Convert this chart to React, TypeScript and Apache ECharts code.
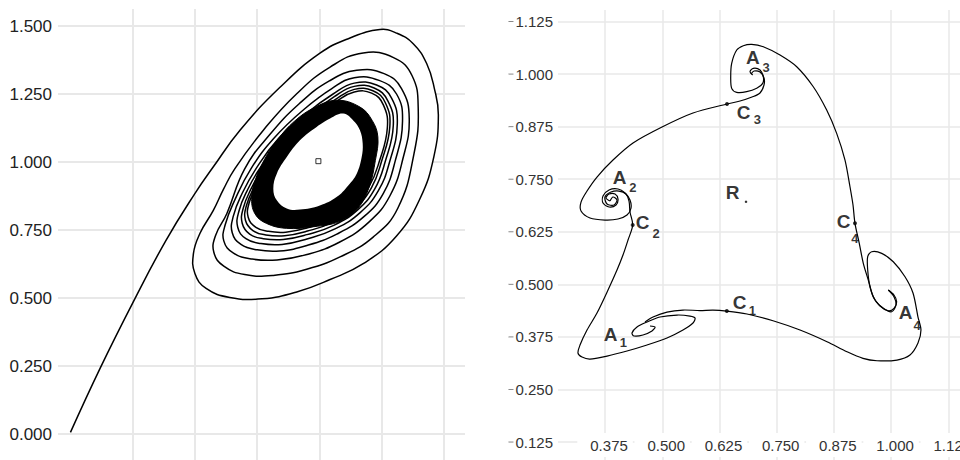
import React, { useEffect, useRef } from "react";
import * as echarts from "echarts";

type P = [number, number];

// ---------------- LEFT PANEL (trajectory spiralling onto a cycle) ----------------
const leftIncoming: P[] = [
  [0.0, 0.006], [0.119, 0.2415], [0.2514, 0.4842], [0.3839, 0.7121], [0.5004, 0.8849],
  [0.5727, 0.9805], [0.6811, 1.1165], [0.8418, 1.2746], [1.0024, 1.4], [1.123, 1.456],
  [1.243, 1.487],
];
const leftLoop1: P[] = [
  [1.31, 1.474], [1.377, 1.435], [1.431, 1.362], [1.462, 1.27], [1.478, 1.172],
  [1.46, 1.02], [1.404, 0.865], [1.31, 0.728], [1.176, 0.626], [1.043, 0.568],
  [0.909, 0.522], [0.77, 0.497], [0.64, 0.502], [0.545, 0.535], [0.5, 0.59],
  [0.494, 0.663], [0.52, 0.737], [0.574, 0.822],
];
const leftLoop2: P[] = [
  [0.615, 0.9], [0.66, 0.975], [0.775, 1.117], [0.909, 1.251], [1.043, 1.349],
  [1.176, 1.401], [1.3, 1.383], [1.372, 1.318], [1.397, 1.2], [1.38, 1.03],
  [1.315, 0.83], [1.216, 0.724], [1.083, 0.651], [0.949, 0.606], [0.815, 0.583],
  [0.7, 0.586], [0.616, 0.617], [0.576, 0.668], [0.583, 0.73], [0.628, 0.81],
];
const leftLoop3: P[] = [
  [0.7, 0.975], [0.8, 1.1], [0.92, 1.215], [1.04, 1.298], [1.15, 1.337],
  [1.26, 1.325], [1.33, 1.27], [1.361, 1.16], [1.335, 1.01], [1.283, 0.875],
  [1.2, 0.78], [1.08, 0.705], [0.95, 0.66], [0.83, 0.64], [0.73, 0.643],
  [0.655, 0.665], [0.616, 0.71], [0.622, 0.77], [0.66, 0.86],
];
const leftLoop4: P[] = [
  [0.725, 0.975], [0.82, 1.09], [0.94, 1.195], [1.05, 1.27], [1.14, 1.31],
  [1.24, 1.3], [1.31, 1.25], [1.334, 1.15], [1.305, 1.005], [1.257, 0.885],
  [1.18, 0.8], [1.07, 0.735], [0.95, 0.693], [0.84, 0.673], [0.75, 0.677],
  [0.685, 0.697], [0.65, 0.74], [0.654, 0.8], [0.69, 0.885],
];
const leftLoop5: P[] = [
  [0.745, 0.975], [0.835, 1.085], [0.95, 1.18], [1.055, 1.25], [1.14, 1.29],
  [1.23, 1.283], [1.29, 1.235], [1.313, 1.14], [1.282, 1.0], [1.237, 0.895],
  [1.165, 0.815], [1.065, 0.755], [0.95, 0.717], [0.85, 0.697], [0.765, 0.7],
  [0.705, 0.718], [0.672, 0.76], [0.677, 0.82], [0.71, 0.895],
];
const leftLoop6: P[] = [
  [0.76, 0.975], [0.85, 1.08], [0.96, 1.17], [1.06, 1.24], [1.14, 1.278],
  [1.22, 1.272], [1.275, 1.225], [1.297, 1.135], [1.264, 1.0], [1.222, 0.9],
  [1.155, 0.825], [1.06, 0.768], [0.95, 0.733], [0.855, 0.715], [0.775, 0.718],
  [0.72, 0.735], [0.69, 0.775], [0.694, 0.83], [0.725, 0.9],
];
const leftLoop7: P[] = [
  [0.772, 0.975], [0.86, 1.075], [0.965, 1.162], [1.065, 1.23], [1.14, 1.267],
  [1.215, 1.262], [1.265, 1.218], [1.283, 1.13], [1.249, 1.0], [1.209, 0.905],
  [1.145, 0.833], [1.055, 0.779], [0.952, 0.746], [0.86, 0.729], [0.785, 0.732],
  [0.733, 0.748], [0.703, 0.786], [0.707, 0.84], [0.737, 0.905],
];
const leftLoop8: P[] = [
  [0.782, 0.975], [0.868, 1.07], [0.97, 1.155], [1.068, 1.222], [1.14, 1.257],
  [1.21, 1.253], [1.257, 1.21], [1.273, 1.125], [1.24, 1.0], [1.2, 0.91],
  [1.138, 0.84], [1.05, 0.789], [0.953, 0.758], [0.865, 0.742], [0.795, 0.745],
  [0.745, 0.76], [0.714, 0.797], [0.718, 0.85], [0.748, 0.91], [0.79, 0.99],
];
const leftBandOuter: P[] = [
  [1.069, 1.227], [1.163, 1.202], [1.212, 1.153], [1.235, 1.092], [1.225, 1.006],
  [1.2, 0.908], [1.155, 0.83], [1.083, 0.782], [0.976, 0.762], [0.869, 0.756],
  [0.788, 0.774], [0.741, 0.81], [0.728, 0.871], [0.745, 0.94], [0.78, 1.01],
  [0.83, 1.08], [0.9, 1.15], [0.976, 1.198],
];
const leftBandHole: P[] = [
  [1.096, 1.178], [1.136, 1.153], [1.163, 1.117], [1.174, 1.068], [1.17, 1.018],
  [1.15, 0.957], [1.116, 0.914], [1.069, 0.871], [1.002, 0.84], [0.922, 0.825],
  [0.869, 0.829], [0.829, 0.859], [0.815, 0.902], [0.829, 0.957], [0.869, 1.018],
  [0.922, 1.08], [0.989, 1.129], [1.043, 1.16],
];
const leftEquilibrium: P[] = [[0.996, 1.003]];
const leftXGrid = [0.25, 0.5, 0.75, 1.0, 1.25, 1.5];

// ---------------- RIGHT PANEL (four saddles C, four attractors A) ----------------
const rightBranchC1: P[] = [
  [0.4623, 0.4104], [0.4798, 0.4223], [0.5104, 0.4341], [0.5453, 0.4389], [0.5825, 0.4377],
  [0.6109, 0.4389], [0.6408, 0.4365], [0.6852, 0.4294], [0.742, 0.4135], [0.801, 0.3913],
  [0.86, 0.3635], [0.9036, 0.3397], [0.9386, 0.324], [0.9692, 0.3183], [1.0129, 0.32],
  [1.0413, 0.3319], [1.0588, 0.3604], [1.0653, 0.3913], [1.0588, 0.4223], [1.0479, 0.4793],
  [1.0304, 0.5181], [1.0048, 0.5538], [0.9795, 0.5737], [0.9576, 0.5775], [0.9489, 0.5657],
  [0.9489, 0.534], [0.9539, 0.4943], [0.9648, 0.4627], [0.983, 0.443], [1.0013, 0.4349],
  [1.0107, 0.4508], [1.0063, 0.4705], [0.9939, 0.4865],
];
const rightBranchC2: P[] = [
  [0.3858, 0.6981], [0.3924, 0.7077], [0.4011, 0.7005], [0.3946, 0.6886], [0.3793, 0.691],
  [0.3749, 0.7077], [0.388, 0.7195], [0.4055, 0.7219], [0.4208, 0.7148], [0.4274, 0.6981],
  [0.4295, 0.672], [0.4354, 0.6411], [0.4252, 0.6054], [0.4142, 0.5697], [0.4011, 0.534],
  [0.3815, 0.4865], [0.3574, 0.4318], [0.3356, 0.3913], [0.3203, 0.3557], [0.3159, 0.3366],
  [0.3247, 0.3271], [0.3421, 0.3224], [0.3793, 0.3295], [0.423, 0.3414], [0.4667, 0.3557],
  [0.5104, 0.3723], [0.5453, 0.3913], [0.5672, 0.408], [0.5716, 0.4199], [0.5606, 0.4246],
  [0.5322, 0.427], [0.4951, 0.4223], [0.4667, 0.4104], [0.4448, 0.3985], [0.4339, 0.3842],
  [0.4383, 0.3771], [0.4579, 0.3795], [0.4776, 0.389], [0.4842, 0.3985], [0.4732, 0.4009],
];
const rightBranchC3: P[] = [
  [0.3858, 0.6981], [0.3771, 0.7053], [0.3837, 0.7148], [0.3968, 0.7148], [0.4033, 0.7029],
  [0.3989, 0.6886], [0.3837, 0.6839], [0.3705, 0.6934], [0.3705, 0.71], [0.3837, 0.7243],
  [0.4033, 0.7267], [0.4186, 0.7171], [0.4295, 0.7005], [0.4317, 0.6815], [0.423, 0.6648],
  [0.4033, 0.6553], [0.3749, 0.6529], [0.3421, 0.6577], [0.3225, 0.6743], [0.3225, 0.6957],
  [0.3356, 0.7219], [0.3574, 0.7552], [0.3924, 0.7956], [0.4361, 0.8361], [0.4995, 0.8741],
  [0.5672, 0.9074], [0.6415, 0.9288], [0.6699, 0.936], [0.6961, 0.9455], [0.7136, 0.955],
  [0.7223, 0.974], [0.7223, 0.9906], [0.7136, 1.0049], [0.7005, 1.0073], [0.6939, 1.0001],
];
const rightBranchC4: P[] = [
  [0.6976, 0.9978], [0.6917, 1.0056], [0.6989, 1.0137], [0.7136, 1.0097], [0.7208, 0.9937],
  [0.7195, 0.978], [0.7064, 0.9661], [0.6845, 0.9581], [0.6627, 0.9567], [0.6517, 0.9661],
  [0.6496, 0.9937], [0.6517, 1.0256], [0.6627, 1.0572], [0.6771, 1.0675], [0.6954, 1.0708],
  [0.7208, 1.0651], [0.7573, 1.0453], [0.7938, 1.0175], [0.83, 0.9699], [0.8593, 0.9145],
  [0.8811, 0.8591], [0.8993, 0.7956], [0.9102, 0.7321], [0.9168, 0.6886], [0.9211, 0.6451],
  [0.9305, 0.5975], [0.9393, 0.55], [0.9502, 0.5102], [0.9611, 0.4705], [0.9758, 0.4484],
  [0.9939, 0.4372], [1.0063, 0.443], [1.0122, 0.4586], [1.0063, 0.4746], [0.9939, 0.4865],
];
const rightSaddlePoints: P[] = [
  [0.641, 0.4365], [0.4354, 0.6411], [0.6415, 0.9288], [0.9211, 0.6451],
];
const rightPointR: P[] = [[0.683, 0.6965]];
const rightLetterText = ["A", "C", "A", "R", "C", "C", "C", "A", "A"];
const rightLetterPos: P[] = [
  [0.698, 1.039], [0.6775, 0.9086], [0.4066, 0.754], [0.6535, 0.7183], [0.4569, 0.647],
  [0.896, 0.649], [0.669, 0.4567], [0.387, 0.3806], [1.0315, 0.433],
];
const rightSubText = ["3", "3", "2", "2", "4", "1", "1", "4"];
const rightSubPos: P[] = [
  [0.727, 1.0155], [0.708, 0.893], [0.436, 0.7314], [0.4864, 0.622], [0.921, 0.61],
  [0.697, 0.4389], [0.415, 0.362], [1.0566, 0.403],
];

const SANS = "'Liberation Sans', Arial, Helvetica, sans-serif";
const GRID = "#e8e8e8";

const polygon = (pts: P[], fill: string, xi: number, yi: number, z: number, smooth: number, stroke?: string) => ({
  type: "custom",
  coordinateSystem: "cartesian2d",
  xAxisIndex: xi,
  yAxisIndex: yi,
  z,
  silent: true,
  clip: false,
  data: [pts[0]],
  renderItem: (_p: any, api: any) => ({
    type: "polygon",
    shape: { points: pts.map((p) => api.coord(p)), smooth },
    style: { fill, stroke: stroke || "none", lineWidth: stroke ? 1 : 0 },
  }),
});

const curve = (pts: P[], xi: number, yi: number, width: number, smooth: number) => ({
  type: "custom",
  coordinateSystem: "cartesian2d",
  xAxisIndex: xi,
  yAxisIndex: yi,
  z: 3,
  silent: true,
  clip: false,
  data: [pts[0]],
  renderItem: (_p: any, api: any) => ({
    type: "polyline",
    shape: { points: pts.map((p) => api.coord(p)), smooth },
    style: { fill: "none", stroke: "#000", lineWidth: width },
  }),
});

export default function App() {
  const ref = useRef<HTMLDivElement>(null);
  useEffect(() => {
    if (!ref.current) return;
    const chart = echarts.init(ref.current, undefined, { renderer: "svg" });
    const trajectory = [
      ...leftIncoming, ...leftLoop1, ...leftLoop2, ...leftLoop3, ...leftLoop4,
      ...leftLoop5, ...leftLoop6, ...leftLoop7, ...leftLoop8,
    ];
    const whiteRegion = [...leftIncoming.slice(4), ...leftLoop1];
    const fmt = (v: number) => v.toFixed(3);
    const option: any = {
      animation: false,
      backgroundColor: "#fff",
      grid: [
        { left: 58, top: 9, width: 407, height: 493, outerBoundsMode: "none", containLabel: false },
        { left: 558, top: 10, width: 447.5, height: 484.6, outerBoundsMode: "none", containLabel: false },
      ],
      xAxis: [
        {
          gridIndex: 0, type: "value", min: -0.05, max: 1.585,
          axisLine: { show: false }, axisTick: { show: false }, axisLabel: { show: false },
          splitLine: { show: false },
        },
        {
          gridIndex: 1, type: "value", min: 0.2722, max: 1.25,
          minInterval: 0.125, maxInterval: 0.125, offset: -52.6,
          axisLine: { show: false, onZero: false }, axisTick: { show: false },
          axisLabel: {
            formatter: fmt, showMinLabel: false, showMaxLabel: false, margin: -9,
            fontFamily: SANS, fontSize: 15, lineHeight: 15, color: "#333",
            backgroundColor: "#fff", padding: [5, 5, 4, 13], hideOverlap: false,
          },
          splitLine: { show: true, showMinLine: false, showMaxLine: false, lineStyle: { color: GRID, width: 1.5 } },
        },
      ],
      yAxis: [
        {
          gridIndex: 0, type: "value", min: -0.25, max: 1.5625,
          minInterval: 0.25, maxInterval: 0.25,
          axisLine: { show: false }, axisTick: { show: false },
          axisLabel: {
            formatter: fmt, showMinLabel: false, showMaxLabel: false, margin: 6,
            fontFamily: SANS, fontSize: 17, color: "#222",
          },
          splitLine: { show: true, showMaxLine: false, lineStyle: { color: GRID, width: 2 } },
        },
        {
          gridIndex: 1, type: "value", min: 0, max: 1.1524,
          minInterval: 0.125, maxInterval: 0.125,
          axisLine: { show: false }, axisTick: { show: false },
          axisLabel: {
            formatter: (v: number) => `{d| }{v|${fmt(v)}}`,
            showMinLabel: false, showMaxLabel: false, margin: 5,
            rich: {
              d: { width: 5, height: 1, backgroundColor: "#888" },
              v: { fontFamily: SANS, fontSize: 15, color: "#333", padding: [0, 0, 0, 2] },
            },
          },
          splitLine: { show: true, showMaxLine: false, lineStyle: { color: GRID, width: 1.5 } },
        },
      ],
      series: [
        // left panel: vertical grid lines through the x scale
        {
          type: "line", xAxisIndex: 0, yAxisIndex: 0, data: [], silent: true, z: 1,
          markLine: {
            silent: true, z: 1, symbol: ["none", "none"], label: { show: false },
            emphasis: { disabled: true }, animation: false,
            lineStyle: { type: "solid", color: GRID, width: 2 },
            data: leftXGrid.map((v) => ({ xAxis: v })),
          },
        },
        polygon(whiteRegion, "#fff", 0, 0, 2, 0.45),
        curve(trajectory, 0, 0, 1.5, 0.45),
        polygon(leftBandOuter, "#000", 0, 0, 4, 0.4, "#000"),
        polygon(leftBandHole, "#fff", 0, 0, 5, 0.4),
        {
          type: "scatter", xAxisIndex: 0, yAxisIndex: 0, data: leftEquilibrium, z: 6, silent: true,
          symbol: "rect", symbolSize: 5,
          itemStyle: { color: "#fff", borderColor: "#000", borderWidth: 1 },
        },
        // right panel
        curve(rightBranchC1, 1, 1, 1.2, 0.3),
        curve(rightBranchC2, 1, 1, 1.2, 0.3),
        curve(rightBranchC3, 1, 1, 1.2, 0.3),
        curve(rightBranchC4, 1, 1, 1.2, 0.3),
        {
          type: "scatter", xAxisIndex: 1, yAxisIndex: 1, data: rightSaddlePoints, z: 4, silent: true,
          symbol: "circle", symbolSize: 4, itemStyle: { color: "#000" },
        },
        {
          type: "scatter", xAxisIndex: 1, yAxisIndex: 1, data: rightPointR, z: 4, silent: true,
          symbol: "circle", symbolSize: 2.5, itemStyle: { color: "#000" },
        },
        {
          type: "scatter", xAxisIndex: 1, yAxisIndex: 1, z: 5, silent: true,
          symbolSize: 1, itemStyle: { color: "rgba(0,0,0,0)" },
          data: rightLetterPos.map((p, i) => ({ value: p, name: rightLetterText[i] })),
          label: {
            show: true, position: "inside", formatter: "{b}",
            fontFamily: SANS, fontSize: 19, fontWeight: "bold", color: "#000",
          },
        },
        {
          type: "scatter", xAxisIndex: 1, yAxisIndex: 1, z: 5, silent: true,
          symbolSize: 1, itemStyle: { color: "rgba(0,0,0,0)" },
          data: rightSubPos.map((p, i) => ({ value: p, name: rightSubText[i] })),
          label: {
            show: true, position: "inside", formatter: "{b}",
            fontFamily: SANS, fontSize: 13, fontWeight: "bold", color: "#000",
          },
        },
      ],
    };
    chart.setOption(option);
    return () => chart.dispose();
  }, []);
  return (
    <div
      ref={ref}
      style={{ position: "fixed", left: 0, top: 0, width: 960, height: 460, background: "#fff" }}
    />
  );
}
